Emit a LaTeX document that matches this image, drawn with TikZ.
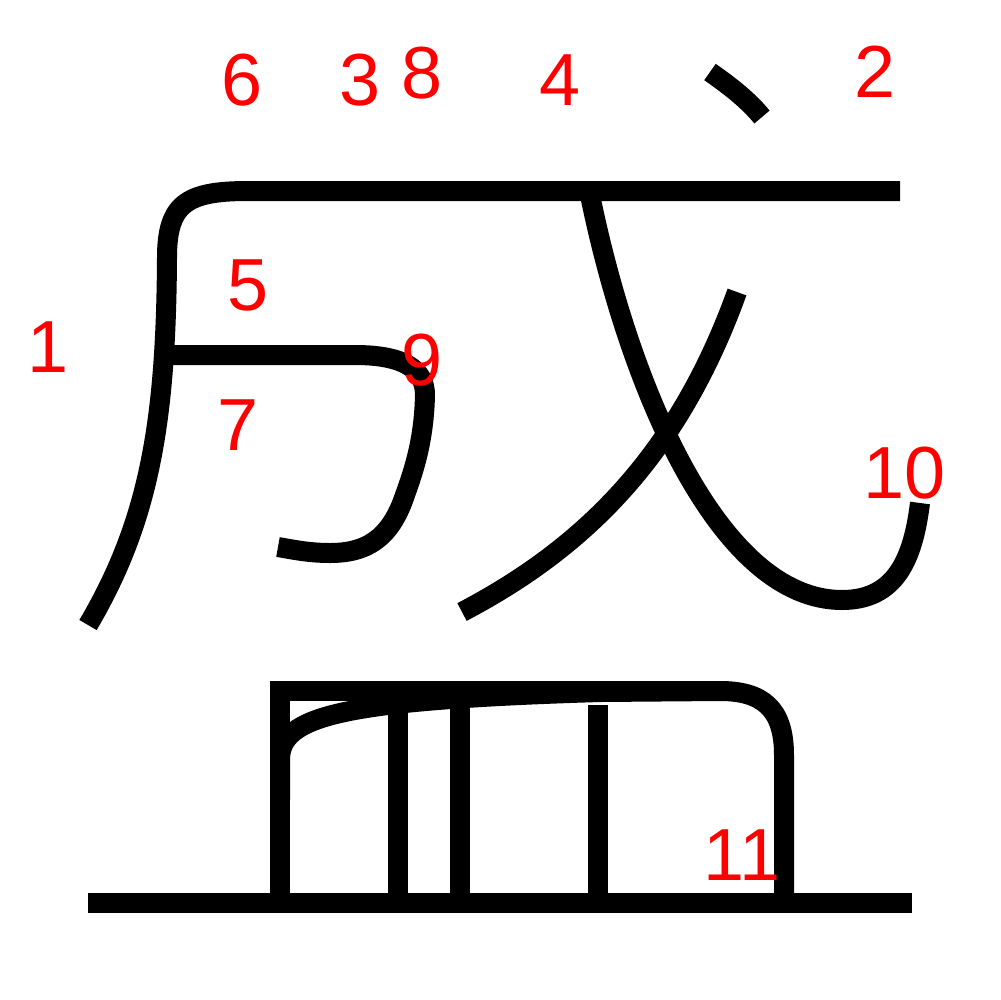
\documentclass[tikz,border=0pt]{standalone}
\usepackage{fontspec}
\setmainfont{Liberation Sans}
\begin{document}
\begin{tikzpicture}[x=0.1mm,y=-0.1mm,
  strokeline/.style={draw=black,line width=2mm,line cap=butt,line join=round},
  sqline/.style={draw=black,line width=2mm,line cap=butt,line join=miter},
  num/.style={text=red,inner sep=0pt,font=\fontsize{21}{25}\selectfont}]
\useasboundingbox (0,0) rectangle (1000,1000);
% top horizontal + left falling stroke
\draw[strokeline] (900,191) -- (248,191) .. controls (186,191) and (167,204) .. (167,258)
  .. controls (166,420) and (150,520) .. (88,625);
% horizontal-turn-hook
\draw[strokeline] (172,355) -- (355,355) .. controls (405,355) and (425,370) .. (425,395)
  .. controls (424,440) and (414,470) .. (405,495)
  .. controls (390,540) and (365,553) .. (330,553)
  .. controls (310,553) and (295,550) .. (278,547);
% dot
\draw[strokeline] (710,72) .. controls (730,86) and (748,100) .. (762,117);
% slanted hook
\draw[strokeline] (590,195) .. controls (630,390) and (720,600) .. (842,600)
  .. controls (895,600) and (913,560) .. (920,503);
% left-falling of ge
\draw[strokeline] (737,292) .. controls (680,450) and (590,545) .. (462,612);
% min
\draw[sqline] (280,903) -- (280,691) -- (715,691);
\draw[strokeline] (280,800) -- (280,760) .. controls (280,716) and (340,700) .. (600,692)
  -- (720,691) .. controls (762,691) and (784,708) .. (784,755) -- (784,903);
\draw[strokeline] (398,706) -- (398,903);
\draw[strokeline] (460,705) -- (460,903);
\draw[strokeline] (598,705) -- (598,903);
\draw[strokeline] (88,903) -- (912,903);
% labels
\node[num] (n6) at (242,80) {6};
\node[num] (n3) at (360,80) {3};
\node[num] (n8) at (422,73) {8};
\node[num] (n4) at (560,80) {4};
\node[num] (n2) at (875,72) {2};
\node[num] (n1) at (48,347) {1};
\node[num] (n5) at (248,285) {5};
\node[num] (n9) at (422,360) {9};
\node[num] (n7) at (238,425) {7};
\node[num] (n10) at (905,473) {10};
\node[num] (n11) at (742,855) {11};
\end{tikzpicture}
\end{document}
